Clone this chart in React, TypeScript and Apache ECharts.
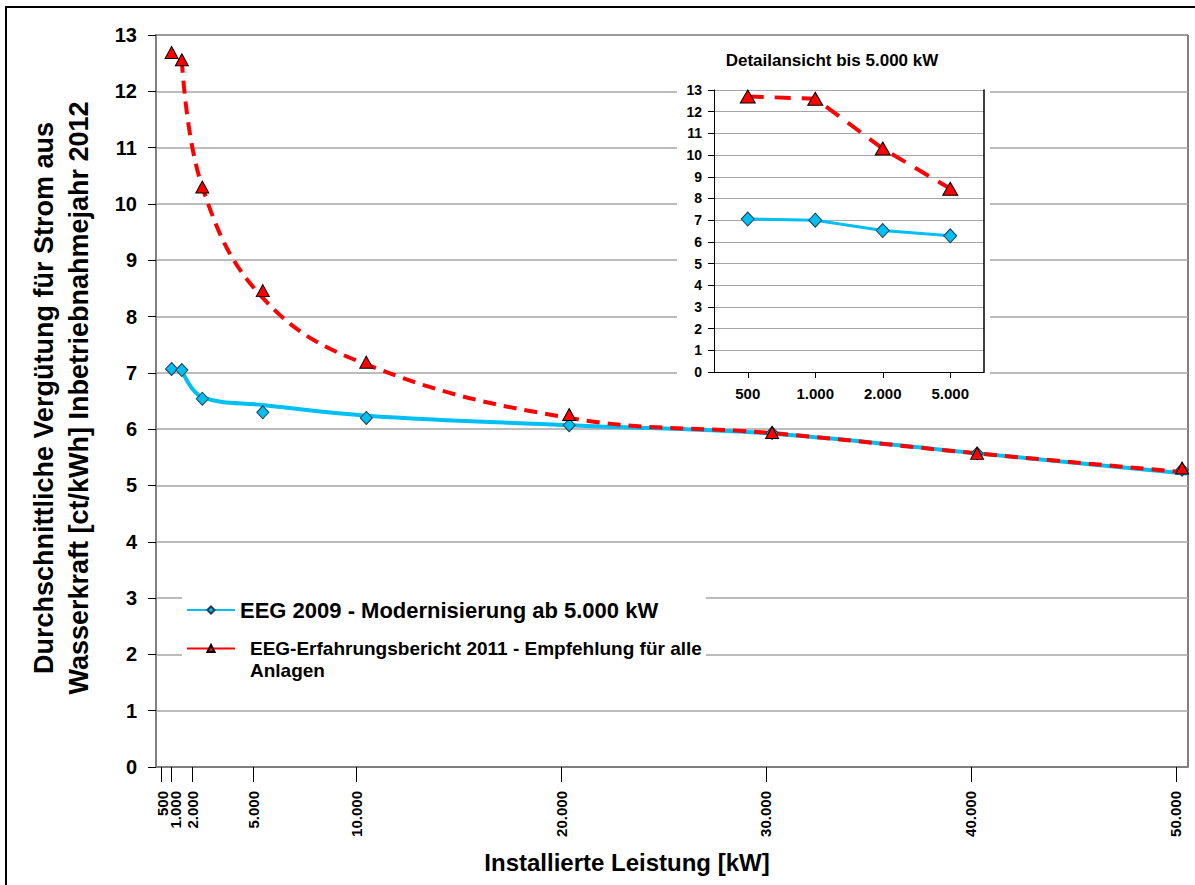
import React, { useEffect, useRef } from "react";
import * as echarts from "echarts";

// ---- Main chart data (x positions and values) ----
const mainX = [1000, 1500, 2500, 5450, 10500, 20400, 30300, 40300, 50300];
const eeg2009Values = [7.07, 7.05, 6.54, 6.3, 6.2, 6.07, 5.93, 5.57, 5.28];
const bericht2011Values = [12.69, 12.56, 10.3, 8.46, 7.19, 6.26, 5.94, 5.57, 5.31];

// trend curves as drawn in the picture
const trendX = [1500, 2500, 5450, 10500, 20400, 30300, 40300, 50600];
const eeg2009Trend = [7.05, 6.57, 6.43, 6.24, 6.07, 5.92, 5.57, 5.21];
const bericht2011Trend = [12.56, 10.3, 8.33, 7.15, 6.2, 5.93, 5.57, 5.23];

// x-axis ticks
const xTicks = [500, 1000, 2000, 5000, 10000, 20000, 30000, 40000, 50000];
const xTickLabels = ["500", "1.000", "2.000", "5.000", "10.000", "20.000", "30.000", "40.000", "50.000"];

// ---- Inset data ----
const insetCategories = ["500", "1.000", "2.000", "5.000"];
const insetEeg2009 = [7.05, 7.0, 6.52, 6.28];
const insetBericht2011 = [12.7, 12.6, 10.3, 8.45];

const BLUE_NAME = "EEG 2009 - Modernisierung ab 5.000 kW";
const RED_NAME = "EEG-Erfahrungsbericht 2011 - Empfehlung für alle Anlagen";
const FONT = "Liberation Sans, Arial, sans-serif";
const BLUE = "#00bff3";
const RED = "#ff0000";

const zip = (xs: number[], ys: number[]) => xs.map((x, i) => [x, ys[i]]);

export default function App() {
  const ref = useRef<HTMLDivElement>(null);

  useEffect(() => {
    if (!ref.current) return;
    const chart = echarts.init(ref.current, undefined, { renderer: "svg" });

    const labelStyle = { fontSize: 15, fontWeight: "bold", color: "#000", fontFamily: FONT };
    const X_MIN = 240;
    const X_MAX = 50590;
    // the crowded 1.000 label goes on a twin axis so the overlap check keeps it
    const crowded = [1000];
    const mainLabelValues = xTicks.filter((v) => !crowded.includes(v));
    const tickLabel = (v: number) => xTickLabels[xTicks.indexOf(v)] ?? "";

    const option: any = {
      animation: false,
      backgroundColor: "#fff",
      textStyle: { fontFamily: FONT },
      grid: [
        {
          left: 156,
          top: 35,
          right: 7,
          bottom: 118,
          show: true,
          borderColor: "#000",
          borderWidth: 1,
          outerBoundsMode: "none",
        },
        {
          left: 714,
          top: 90,
          width: 270,
          height: 282,
          z: 4,
          outerBoundsMode: "none",
        },
      ],
      xAxis: [
        {
          type: "value",
          gridIndex: 0,
          position: "bottom",
          min: X_MIN,
          max: X_MAX,
          axisLine: { show: true, lineStyle: { color: "#7f7f7f", width: 2 } },
          axisTick: {
            show: true,
            customValues: xTicks,
            length: 15,
            lineStyle: { color: "#000", width: 1 },
          },
          axisLabel: {
            customValues: mainLabelValues,
            rotate: 90,
            margin: 24,
            showMinLabel: true,
            showMaxLabel: true,
            hideOverlap: false,
            ...labelStyle,
            formatter: (v: number) => (v === 500 ? `{m|${tickLabel(v)}}` : tickLabel(v)),
            rich: {
              m: { ...labelStyle, padding: [3, 0, 0, 0] },
            },
          },
          splitLine: { show: false },
        },
        {
          type: "category",
          gridIndex: 1,
          data: insetCategories,
          boundaryGap: true,
          z: 5,
          axisLine: { show: true, lineStyle: { color: "#000", width: 1 } },
          axisTick: { show: true, alignWithLabel: true, length: 6, lineStyle: { color: "#000" } },
          axisLabel: {
            margin: 14,
            ...labelStyle,
          },
          splitLine: { show: false },
        },
        {
          type: "value",
          gridIndex: 0,
          position: "bottom",
          offset: 0,
          min: X_MIN,
          max: X_MAX,
          axisLine: { show: false },
          axisTick: { show: false },
          splitLine: { show: false },
          axisLabel: {
            customValues: crowded,
            rotate: 90,
            margin: 24,
            showMinLabel: true,
            showMaxLabel: true,
            ...labelStyle,
            formatter: (v: number) => `{s|${tickLabel(v)}}`,
            rich: {
              s: { ...labelStyle, padding: [8, 0, 0, 0] },
            },
          },
        },
      ],
      yAxis: [
        {
          type: "value",
          gridIndex: 0,
          min: 0,
          max: 13,
          interval: 1,
          axisLine: { show: true, lineStyle: { color: "#7f7f7f", width: 2 } },
          axisTick: { show: true, length: 8, lineStyle: { color: "#000" } },
          axisLabel: {
            margin: 19,
            fontSize: 20,
            fontWeight: "bold",
            color: "#000",
            fontFamily: FONT,
          },
          splitLine: { show: true, lineStyle: { color: "#a6a6a6", width: 1.5 } },
        },
        {
          type: "value",
          gridIndex: 1,
          min: 0,
          max: 13,
          interval: 1,
          z: 5,
          axisLine: { show: true, lineStyle: { color: "#000", width: 1 } },
          axisTick: { show: true, length: 6, lineStyle: { color: "#000" } },
          axisLabel: {
            margin: 12,
            fontSize: 14,
            fontWeight: "bold",
            color: "#000",
            fontFamily: FONT,
          },
          splitLine: { show: true, lineStyle: { color: "#a6a6a6", width: 1.2 } },
        },
        {
          type: "value",
          gridIndex: 1,
          position: "right",
          min: 0,
          max: 13,
          interval: 1,
          z: 5,
          axisLine: { show: true, lineStyle: { color: "#000", width: 1.5 } },
          axisTick: { show: false },
          axisLabel: { show: false },
          splitLine: { show: false },
        },
      ],
      legend: {
        data: [BLUE_NAME, RED_NAME],
        orient: "vertical",
        left: 182,
        top: 595,
        padding: 4,
        backgroundColor: "#fff",
        itemWidth: 48,
        itemHeight: 9,
        itemGap: -4,
        z: 6,
        lineStyle: { type: "solid" },
        selectedMode: false,
        formatter: (name: string) =>
          name === BLUE_NAME
            ? `{a|${name}}`
            : `{s| }\n{b|EEG-Erfahrungsbericht 2011 - Empfehlung für alle}\n{b|Anlagen}`,
        textStyle: {
          rich: {
            a: { fontSize: 22, fontWeight: "bold", color: "#000", fontFamily: FONT, lineHeight: 26 },
            b: { fontSize: 19, fontWeight: "bold", color: "#000", fontFamily: FONT, lineHeight: 22, padding: [0, 0, 0, 10] },
            s: { fontSize: 19, lineHeight: 22 },
          },
        },
      },
      series: [
        {
          name: BLUE_NAME,
          type: "line",
          xAxisIndex: 0,
          yAxisIndex: 0,
          data: zip(trendX, eeg2009Trend),
          smooth: 0.4,
          showSymbol: false,
          symbol: "diamond",
          itemStyle: { color: BLUE, borderColor: "#1f3b4d", borderWidth: 1 },
          lineStyle: { color: BLUE, width: 4 },
          z: 2,
        },
        {
          name: RED_NAME,
          type: "line",
          xAxisIndex: 0,
          yAxisIndex: 0,
          data: zip(trendX, bericht2011Trend),
          smooth: 0.4,
          showSymbol: false,
          symbol: "triangle",
          itemStyle: { color: RED, borderColor: "#000", borderWidth: 1 },
          lineStyle: { color: RED, width: 4, type: [13, 8] },
          z: 2,
        },
        {
          name: "EEG 2009 Werte",
          type: "scatter",
          xAxisIndex: 0,
          yAxisIndex: 0,
          data: zip(mainX, eeg2009Values),
          symbol: "diamond",
          symbolSize: [12, 13],
          itemStyle: { color: BLUE, borderColor: "#1f3b4d", borderWidth: 1, opacity: 1 },
          z: 3,
        },
        {
          name: "EEG-Erfahrungsbericht 2011 Werte",
          type: "scatter",
          xAxisIndex: 0,
          yAxisIndex: 0,
          data: zip(mainX, bericht2011Values),
          symbol: "triangle",
          symbolSize: [13, 12],
          itemStyle: { color: RED, borderColor: "#000", borderWidth: 1, opacity: 1 },
          z: 3,
        },
        {
          name: "Detail EEG 2009",
          type: "line",
          xAxisIndex: 1,
          yAxisIndex: 1,
          data: insetEeg2009,
          symbol: "diamond",
          symbolSize: [13, 14],
          itemStyle: { color: BLUE, borderColor: "#1f3b4d", borderWidth: 1 },
          lineStyle: { color: BLUE, width: 3 },
          z: 6,
        },
        {
          name: "Detail Erfahrungsbericht 2011",
          type: "line",
          xAxisIndex: 1,
          yAxisIndex: 1,
          data: insetBericht2011,
          symbol: "triangle",
          symbolSize: [15, 13],
          itemStyle: { color: RED, borderColor: "#000", borderWidth: 1 },
          lineStyle: { color: RED, width: 4, type: [16, 11] },
          z: 6,
        },
      ],
      graphic: [
        {
          type: "rect",
          z: 3,
          shape: { x: 677, y: 42, width: 313, height: 358 },
          style: { fill: "#fff" },
          silent: true,
        },
        {
          type: "rect",
          z: 10,
          shape: { x: 6, y: 7, width: 1200, height: 900 },
          style: { fill: "none", stroke: "#000", lineWidth: 2 },
          silent: true,
        },
        {
          type: "text",
          z: 10,
          x: 832,
          y: 60,
          style: {
            text: "Detailansicht bis 5.000 kW",
            font: `bold 17px ${FONT}`,
            fill: "#000",
            align: "center",
            verticalAlign: "middle",
          },
        },
        {
          type: "text",
          z: 10,
          x: 61,
          y: 398,
          rotation: Math.PI / 2,
          style: {
            text: "Durchschnittliche Vergütung für Strom aus\nWasserkraft [ct/kWh] Inbetriebnahmejahr 2012",
            font: `bold 27px ${FONT}`,
            lineHeight: 35,
            fill: "#000",
            align: "center",
            verticalAlign: "middle",
          },
        },
        {
          type: "text",
          z: 10,
          x: 627,
          y: 862,
          style: {
            text: "Installierte Leistung [kW]",
            font: `bold 24px ${FONT}`,
            fill: "#000",
            align: "center",
            verticalAlign: "middle",
          },
        },
      ],
    };

    chart.setOption(option);
    return () => chart.dispose();
  }, []);

  return <div ref={ref} style={{ width: 1195, height: 885, position: "absolute", left: 0, top: 0 }} />;
}
